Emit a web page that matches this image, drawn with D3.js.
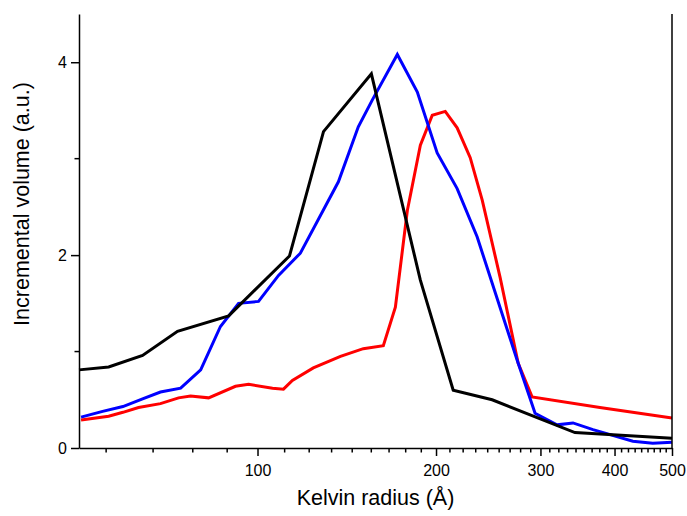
<!DOCTYPE html>
<html>
<head>
<meta charset="utf-8">
<script src="https://cdn.jsdelivr.net/npm/d3@7"></script>
<style>
  body { margin: 0; background: #fff; }
  svg { display: block; font-family: "Liberation Sans", Arial, sans-serif; }
</style>
</head>
<body>
<svg id="chart" width="687" height="516"></svg>
<script>
// Kelvin radius (Å) and incremental volume (a.u.) per sample
const blackR = [50, 56.1, 64.0, 73.3, 89.4, 113.2, 129.2, 155.6, 188.2, 213.8, 248.7, 343, 500];
const blackV = [0.81, 0.84, 0.96, 1.21, 1.37, 1.99, 3.28, 3.88, 1.74, 0.60, 0.50, 0.16, 0.10];

const blueR = [50.4, 54.8, 59.3, 64.0, 68.6, 74.2, 80.2, 86.6, 92.9, 100.4, 108.5, 118.1, 136.9,
  147.9, 156.2, 172.1, 186.0, 200.9, 217.1, 234.6, 274.1, 293.8, 319.9, 340.4, 367.9, 429.5, 464, 500];
const blueV = [0.32, 0.38, 0.43, 0.51, 0.58, 0.62, 0.81, 1.26, 1.50, 1.52, 1.79, 2.02, 2.76,
  3.33, 3.61, 4.08, 3.69, 3.06, 2.69, 2.19, 0.91, 0.36, 0.24, 0.26, 0.19, 0.07, 0.05, 0.06];

const redR = [50.4, 56.1, 59.3, 63.0, 68.6, 73.6, 77.1, 82.7, 91.8, 96.6, 106.0, 110.6, 114.5, 124.2,
  138.0, 150.8, 163.0, 170.8, 178.9, 188.2, 197.1, 207.3, 217.1, 228.4, 239.3, 256.5, 275.1, 290.4, 377.9, 500];
const redV = [0.29, 0.33, 0.37, 0.42, 0.46, 0.52, 0.54, 0.52, 0.64, 0.66, 0.62, 0.61, 0.70, 0.83,
  0.95, 1.03, 1.06, 1.46, 2.46, 3.14, 3.45, 3.49, 3.32, 3.01, 2.57, 1.77, 0.88, 0.53, 0.42, 0.31];

const xMajor = [100, 200, 300, 400, 500];
const yMajor = [0, 2, 4];
const yMinor = [1, 3];

const series = [
  {name: 'red', color: '#ff0000', r: redR, v: redV},
  {name: 'blue', color: '#0000ff', r: blueR, v: blueV},
  {name: 'black', color: '#000000', r: blackR, v: blackV}
];

const svg = d3.select('#chart');
const m = {l: 79, r: 672, t: 14, b: 448};

const x = d3.scaleLog().domain([50, 500]).range([m.l, m.r]);
const y = d3.scaleLinear().domain([0, 4.5]).range([m.b, m.t]);

// minor ticks sit on steps of 100/9 (as in the original plot)
const xMinor = d3.range(5, 46).filter(k => k % 9 !== 0).map(k => k * 100 / 9);

// curves
const line = d3.line()
  .x(d => x(d[0]))
  .y(d => y(d[1]));

svg.selectAll('.curve')
  .data(series).enter()
  .append('path')
  .attr('class', 'curve')
  .attr('d', s => line(d3.zip(s.r, s.v)))
  .attr('fill', 'none')
  .attr('stroke', s => s.color)
  .attr('stroke-width', 3)
  .attr('stroke-linejoin', 'miter');

// x axis
const gx = svg.append('g')
  .attr('transform', 'translate(0,' + m.b + ')')
  .call(d3.axisBottom(x).tickValues(xMajor).tickFormat(d3.format('d')).tickSize(8).tickSizeOuter(0));

// y axis
const gy = svg.append('g')
  .attr('transform', 'translate(' + m.l + ',0)')
  .call(d3.axisLeft(y).tickValues(yMajor).tickFormat(d3.format('d')).tickSize(8).tickSizeOuter(0));

[gx, gy].forEach(g => {
  g.select('.domain').attr('stroke-width', 1.5);
  g.selectAll('.tick line').attr('stroke-width', 1.5);
  g.selectAll('.tick text')
    .attr('font-size', 16)
    .attr('font-family', '"Liberation Sans", Arial, sans-serif')
    .attr('fill', '#000');
});
gx.selectAll('.tick text').attr('dy', '1.05em');
gy.selectAll('.tick text').attr('x', -12);

// minor ticks
svg.append('g').attr('class', 'x_minor')
  .selectAll('line')
  .data(xMinor).enter()
  .append('line')
  .attr('x1', d => x(d)).attr('x2', d => x(d))
  .attr('y1', m.b).attr('y2', m.b + 4.5)
  .style('stroke', '#000').style('stroke-width', '1.5px');

svg.append('g').attr('class', 'y_minor')
  .selectAll('line')
  .data(yMinor).enter()
  .append('line')
  .attr('x1', m.l).attr('x2', m.l - 4.5)
  .attr('y1', d => y(d)).attr('y2', d => y(d))
  .style('stroke', '#000').style('stroke-width', '1.5px');

// right frame line
svg.append('line')
  .attr('x1', m.r).attr('x2', m.r)
  .attr('y1', m.t).attr('y2', m.b)
  .attr('stroke', '#000').attr('stroke-width', 1.5);

// titles
svg.append('text')
  .attr('x', (m.l + m.r) / 2)
  .attr('y', 505)
  .attr('text-anchor', 'middle')
  .attr('font-size', 21.5)
  .text('Kelvin radius (Å)');

svg.append('text')
  .attr('transform', 'translate(29,204) rotate(-90)')
  .attr('text-anchor', 'middle')
  .attr('font-size', 21.5)
  .text('Incremental volume (a.u.)');
</script>
</body>
</html>
